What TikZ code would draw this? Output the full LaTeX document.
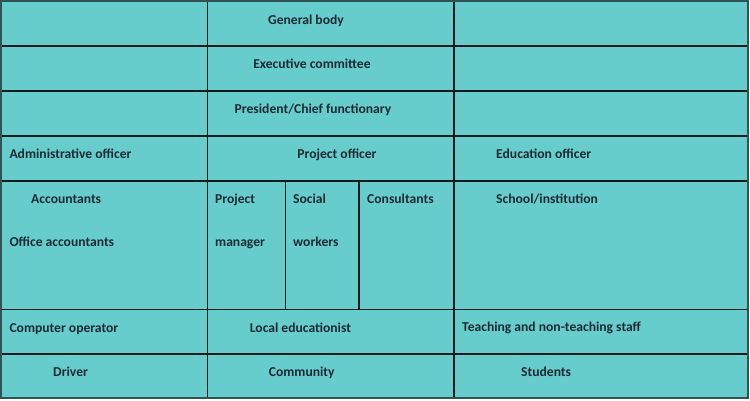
\documentclass[tikz,border=0pt]{standalone}
\usepackage{fontspec}
\setmainfont{Carlito}
\definecolor{cellfill}{HTML}{66CCCC}
\definecolor{gridline}{HTML}{151A1C}
\definecolor{outerline}{HTML}{2E5556}
\definecolor{txt}{HTML}{1C2B33}
\begin{document}
\begin{tikzpicture}[x=1pt,y=-1pt,
  lbl/.style={anchor=west,inner sep=0pt,yshift=-1.5pt,font=\bfseries\fontsize{13.6}{15}\selectfont,text=txt,text height=1.5ex,text depth=.3ex},
  clbl/.style={lbl,anchor=center},
  gl/.style={draw=gridline,line width=1.4pt},
  ol/.style={draw=outerline,line width=2pt}]
\useasboundingbox (0,0) rectangle (750,401);
\fill[white] (0,0) rectangle (750,401);
\fill[cellfill] (1,1) rectangle (748,398);
% horizontal grid lines
\foreach \yy in {46,91,136,181,309.5,354}
  \draw[gl] (1,\yy) -- (748,\yy);
% vertical grid lines
\draw[gl] (207.5,1) -- (207.5,398);
\draw[gl] (454,1) -- (454,398);
\draw[gl] (285.5,181) -- (285.5,309.5);
\draw[gl] (359,181) -- (359,309.5);
\draw[ol] (1,1) rectangle (748,398);
% labels
\node[clbl] (gb) at (306,20) {General body};
\node[clbl] (ec) at (312,64) {Executive committee};
\node[clbl] (pc) at (313,109) {President/Chief functionary};
\node[lbl] (ao) at (9.3,154) {Administrative officer};
\node[clbl] (po) at (337,154) {Project officer};
\node[lbl] (eo) at (496,154) {Education officer};
\node[lbl] (ac) at (31,199) {Accountants};
\node[lbl] (oa) at (9.3,242) {Office accountants};
\node[lbl] (pm1) at (215,199) {Project};
\node[lbl] (pm2) at (215,242) {manager};
\node[lbl] (sw1) at (293,199) {Social};
\node[lbl] (sw2) at (293,242) {workers};
\node[lbl] (cs) at (367,199) {Consultants};
\node[lbl] (si) at (496,199) {School/institution};
\node[lbl] (co) at (9.3,328) {Computer operator};
\node[lbl] (le) at (249.7,328) {Local educationist};
\node[lbl] (ts) at (462,327.5) {Teaching and non-teaching staff};
\node[lbl] (dr) at (53,372.5) {Driver};
\node[lbl] (cm) at (268.7,372.5) {Community};
\node[lbl] (st) at (521,372.5) {Students};
\end{tikzpicture}
\end{document}
